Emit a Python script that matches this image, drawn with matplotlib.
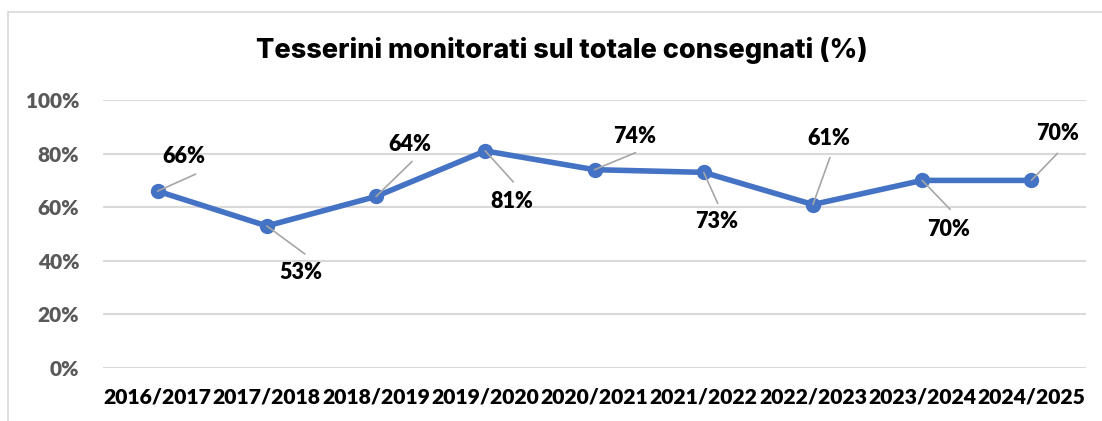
import matplotlib
matplotlib.use("Agg")
import matplotlib.pyplot as plt
from matplotlib.patches import Rectangle
from matplotlib.ticker import FuncFormatter

plt.rcParams['font.family'] = ['Lato', 'DejaVu Sans']
plt.rcParams['font.weight'] = 'heavy'

# data
anni = ['2016/2017', '2017/2018', '2018/2019', '2019/2020', '2020/2021',
        '2021/2022', '2022/2023', '2023/2024', '2024/2025']
percentuali = [66, 53, 64, 81, 74, 73, 61, 70, 70]
titolo = 'Tesserini monitorati sul totale consegnati (%)'

# label placement (pixel offsets from the point): text centre, leader end
text_off = [(26, 35), (34, -47), (34, 52), (27, -51), (40, 33),
            (13, -49), (16, 66), (26, -49), (26, 47)]
line_off = [(38, 17), (38, -28), (36, 35), (28, -31), (41, 17),
            (14, -31), (17, 47), (28, -29), (26, 27)]

fig = plt.figure(figsize=(11.02, 4.21), dpi=100)
W, H = 1102, 421

# chart frame
fig.patches.append(Rectangle((8 / W, -0.1), 1.2, 1.1 - 12 / H,
                             transform=fig.transFigure, fill=False,
                             edgecolor='#d9d9d9', lw=1.2))

ax = fig.add_axes([103 / W, 1 - 368 / H, (1086 - 103) / W, 268 / H])

x = list(range(len(anni)))
y = [v / 100 for v in percentuali]

ax.set_ylim(0, 1.0)
ax.set_xlim(-0.5, len(anni) - 0.5)
ax.set_yticks([0, 0.2, 0.4, 0.6, 0.8, 1.0])
ax.yaxis.set_major_formatter(FuncFormatter(lambda v, p: '%d%%' % round(v * 100)))
ax.grid(axis='y', color='#d9d9d9', lw=1.5)
ax.set_axisbelow(True)
for s in ax.spines.values():
    s.set_visible(False)
ax.tick_params(length=0)
ax.tick_params(axis='y', labelsize=15, labelcolor='#595959', pad=17)
ax.tick_params(axis='x', labelsize=15.2, labelcolor='black', pad=14)
ax.set_xticks(x)
ax.set_xticklabels(anni, fontweight='heavy')
for t in ax.get_yticklabels():
    t.set_fontweight('heavy')

ax.plot(x, y, color='#4472c4', lw=4, marker='o', markersize=10,
        solid_capstyle='round', zorder=3)

for i, v in enumerate(percentuali):
    ax.annotate('', xy=(x[i], y[i]), xytext=line_off[i],
                textcoords='offset pixels',
                arrowprops=dict(arrowstyle='-', color='#a6a6a6', lw=1.2,
                                shrinkA=0, shrinkB=0),
                zorder=4)
    ax.annotate('%d%%' % v, xy=(x[i], y[i]), xytext=text_off[i],
                textcoords='offset pixels', ha='center', va='center',
                fontsize=15.5, fontweight='heavy', color='black')

fig.text(562 / W, 1 - 50 / H, titolo, ha='center', va='center',
         fontsize=19.5, fontweight='heavy', color='black',
         family=['Inter', 'DejaVu Sans'])

fig.savefig('out.png', dpi=100)
